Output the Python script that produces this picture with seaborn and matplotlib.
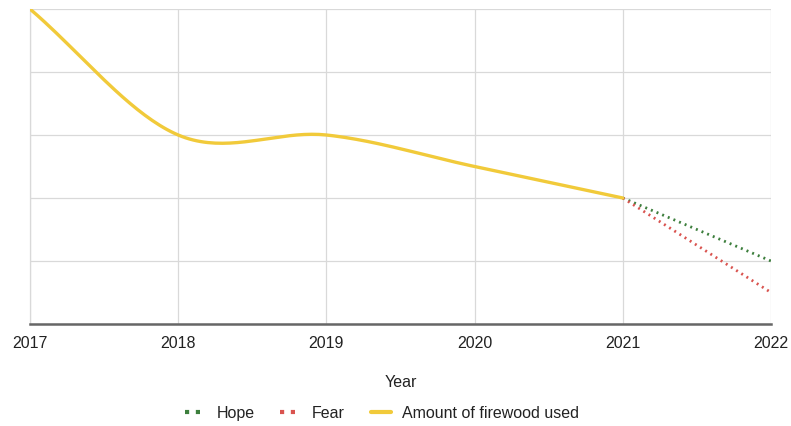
import numpy as np
import pandas as pd
import matplotlib
matplotlib.use("Agg")
import matplotlib.pyplot as plt
import seaborn as sns
from matplotlib.lines import Line2D

# Data
years = [2017, 2018, 2019, 2020, 2021]
firewood = [5.0, 3.0, 3.0, 2.5, 2.0]
proj_years = [2021, 2022]
hope = [2.0, 1.0]
fear = [2.0, 0.5]
xticks = [2017, 2018, 2019, 2020, 2021, 2022]

YELLOW = "#f1ca3a"
GREEN = "#3d7f3d"
RED = "#d9534f"
FS = 11.5

def smooth(xs, ys, n=40):
    # Catmull-Rom style cubic Hermite rendering of the line through the points
    xs = np.asarray(xs, float); ys = np.asarray(ys, float)
    m = np.zeros_like(ys)
    for i in range(len(ys)):
        if i == 0:
            m[i] = (ys[1] - ys[0]) / (xs[1] - xs[0])
        elif i == len(ys) - 1:
            m[i] = (ys[-1] - ys[-2]) / (xs[-1] - xs[-2])
        else:
            m[i] = (ys[i + 1] - ys[i - 1]) / (xs[i + 1] - xs[i - 1])
    ox, oy = [], []
    for i in range(len(xs) - 1):
        h = xs[i + 1] - xs[i]
        t = np.linspace(0, 1, n, endpoint=False)
        h00 = 2 * t**3 - 3 * t**2 + 1
        h10 = t**3 - 2 * t**2 + t
        h01 = -2 * t**3 + 3 * t**2
        h11 = t**3 - t**2
        ox.extend(xs[i] + t * h)
        oy.extend(h00 * ys[i] + h10 * h * m[i] + h01 * ys[i + 1] + h11 * h * m[i + 1])
    ox.append(xs[-1]); oy.append(ys[-1])
    return np.array(ox), np.array(oy)

sns.set_theme(style="white")
plt.rcParams['font.family'] = ['Liberation Sans', 'DejaVu Sans']

fig = plt.figure(figsize=(7.91, 4.27), dpi=100)
ax = fig.add_axes([30/791, 1 - 325/427, 741/791, 315/427])

sx, sy = smooth(years, firewood)
df_main = pd.DataFrame({"Year": sx, "Value": sy})
df_hope = pd.DataFrame({"Year": proj_years, "Value": hope})
df_fear = pd.DataFrame({"Year": proj_years, "Value": fear})

sns.lineplot(data=df_hope, x="Year", y="Value", ax=ax, color=GREEN, lw=2.0,
             linestyle=(0, (0.7, 1.5)), dash_capstyle="butt", zorder=3)
sns.lineplot(data=df_fear, x="Year", y="Value", ax=ax, color=RED, lw=2.0,
             linestyle=(0, (0.7, 1.5)), dash_capstyle="butt", zorder=3)
sns.lineplot(data=df_main, x="Year", y="Value", ax=ax, color=YELLOW, lw=2.4,
             sort=False, zorder=4)

ax.set_xlim(2017, 2022)
ax.set_ylim(0, 5)
ax.set_xticks(xticks)
ax.set_xticklabels([str(x) for x in xticks], fontsize=FS, color="#222222")
ax.set_yticks([0, 1, 2, 3, 4, 5])
ax.set_yticklabels([])
ax.tick_params(axis="both", length=0, pad=8)
ax.grid(True, color="#d9d9d9", lw=0.9)
for s in ["top", "right"]:
    ax.spines[s].set_visible(False)
ax.spines["left"].set_color("#d9d9d9")
ax.spines["left"].set_linewidth(0.9)
ax.spines["bottom"].set_color("#666666")
ax.spines["bottom"].set_linewidth(1.8)
ax.set_ylabel("")
ax.set_xlabel("Year", fontsize=FS, color="#222222", labelpad=17)

handles = [
    Line2D([0], [0], color=GREEN, lw=3, linestyle=(0, (1, 1.6))),
    Line2D([0], [0], color=RED, lw=3, linestyle=(0, (1, 1.6))),
    Line2D([0], [0], color=YELLOW, lw=3),
]
fig.legend(handles, ["Hope", "Fear", "Amount of firewood used"], loc="center",
           bbox_to_anchor=(382/791, 1 - 414/427), ncol=3, frameon=False,
           fontsize=FS, handlelength=1.3, columnspacing=1.6, handletextpad=0.7,
           labelcolor="#222222")

fig.savefig("out.png", dpi=100)
